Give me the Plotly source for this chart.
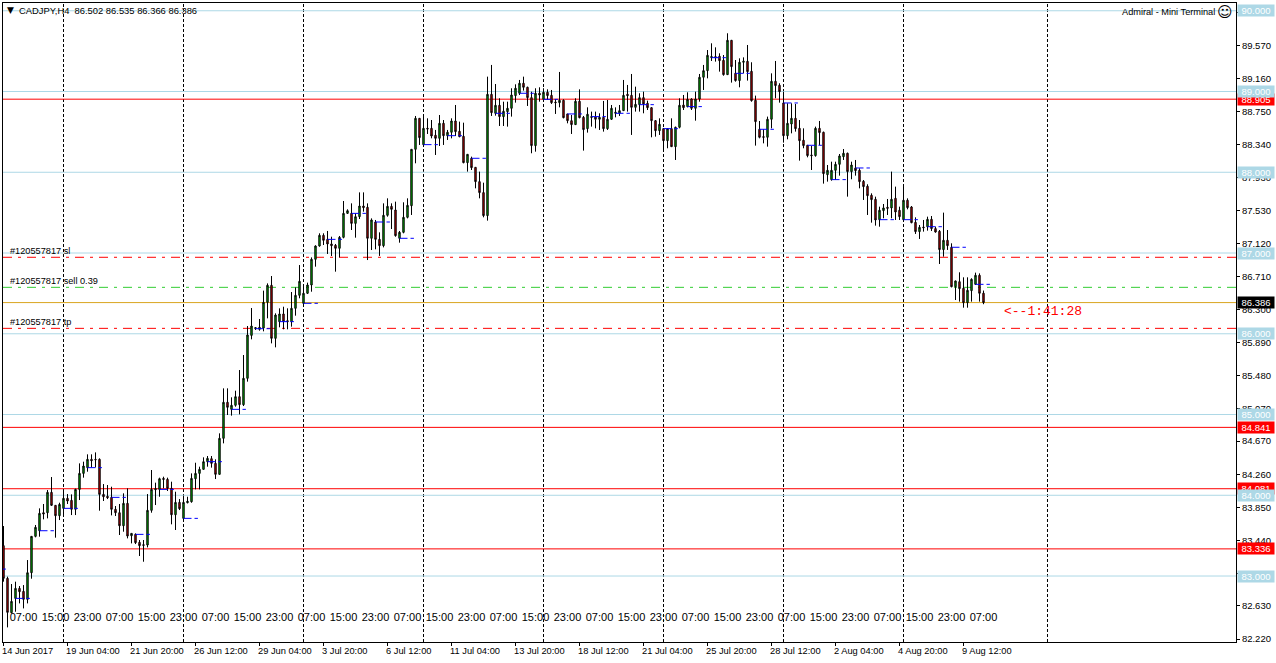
import plotly.graph_objects as go

opens = [
83.376,82.971,82.546,82.723,82.847,82.810,82.711,83.041,83.491,83.561,
83.784,83.784,84.036,83.875,83.747,83.838,83.962,83.937,83.826,84.073,
84.271,84.342,84.445,84.445,84.445,84.011,83.987,83.974,83.826,83.784,
83.623,83.900,83.499,83.516,83.417,83.388,83.384,83.813,84.069,84.073,
84.209,84.197,84.086,83.759,83.912,83.714,83.908,83.920,84.205,84.271,
84.321,84.416,84.453,84.395,84.259,84.705,85.151,85.064,85.114,85.221,
85.122,85.448,85.980,86.063,86.055,86.071,86.389,86.600,85.943,86.150,
86.245,86.162,86.150,86.315,86.476,86.377,86.501,86.604,86.922,87.087,
87.219,87.169,87.112,87.095,87.058,87.194,87.491,87.491,87.367,87.450,
87.582,87.566,87.182,87.384,87.169,87.091,87.467,87.578,87.533,87.182,
87.256,87.442,87.586,88.284,88.668,88.342,88.544,88.544,88.458,88.420,
88.606,88.453,88.495,88.635,88.507,88.445,88.119,88.173,88.061,87.884,
87.748,87.463,88.965,88.730,88.829,88.689,88.751,88.792,88.949,88.978,
89.102,89.052,88.924,88.330,88.978,88.903,88.990,88.953,88.870,88.862,
88.891,88.722,88.639,88.590,88.879,88.680,88.540,88.689,88.685,88.656,
88.680,88.540,88.656,88.730,88.730,88.763,88.965,88.953,88.804,88.837,
88.924,88.854,88.800,88.639,88.515,88.540,88.391,88.540,88.317,88.557,
88.833,88.813,88.907,88.792,88.907,89.176,89.258,89.419,89.432,89.436,
89.386,89.209,89.634,89.225,89.135,89.362,89.374,89.250,88.891,88.532,
88.441,88.433,88.656,89.126,89.077,88.858,88.453,88.598,88.668,88.544,
88.396,88.334,88.214,88.206,88.544,88.495,87.970,87.909,88.024,88.098,
88.193,88.235,88.008,88.053,88.024,87.888,87.826,87.715,87.665,87.413,
87.525,87.566,87.558,87.677,87.529,87.413,87.653,87.570,87.380,87.265,
87.322,87.326,87.417,87.302,87.269,87.042,87.157,87.071,86.583,86.645,
86.563,86.385,86.534,86.612,86.724,86.502,
]
highs = [
83.619,82.992,82.901,82.930,82.876,82.888,83.198,83.495,83.632,83.838,
83.892,84.065,84.226,83.875,83.908,84.073,84.015,84.011,84.081,84.395,
84.416,84.507,84.507,84.531,84.457,84.139,84.127,84.106,83.867,83.892,
84.024,84.086,83.528,83.528,83.446,83.446,84.015,84.313,84.156,84.218,
84.230,84.218,84.168,84.044,83.953,83.995,83.982,84.271,84.403,84.354,
84.470,84.486,84.486,84.445,84.767,85.324,85.324,85.213,85.295,85.551,
85.737,86.096,86.319,86.080,86.183,86.534,86.624,86.715,86.253,86.315,
86.335,86.315,86.517,86.575,86.851,86.616,86.633,86.946,87.095,87.244,
87.244,87.273,87.202,87.112,87.211,87.644,87.541,87.615,87.491,87.751,
87.751,87.615,87.429,87.409,87.256,87.615,87.677,87.615,87.636,87.273,
87.628,87.677,88.284,88.697,88.668,88.689,88.668,88.647,88.524,88.709,
88.647,88.524,88.668,88.833,88.627,88.614,88.222,88.193,88.061,88.008,
87.871,89.184,89.329,89.093,88.916,88.874,88.874,89.040,89.089,89.143,
89.184,89.060,88.998,89.040,89.052,89.040,89.027,89.019,88.907,89.242,
88.903,88.722,88.709,88.916,89.027,88.697,88.804,88.751,88.751,88.730,
88.883,88.895,88.833,88.804,88.833,89.143,89.081,89.217,89.060,88.978,
88.998,88.887,88.804,88.647,88.668,88.544,88.544,88.668,88.565,88.916,
88.957,88.990,88.916,88.998,89.217,89.329,89.514,89.597,89.547,89.473,
89.452,89.721,89.638,89.390,89.411,89.423,89.576,89.362,88.949,88.635,
88.532,88.689,89.225,89.378,89.102,88.998,88.854,88.854,88.846,88.647,
88.544,88.338,88.325,88.565,88.635,88.503,88.090,88.131,88.131,88.226,
88.288,88.243,88.131,88.152,88.049,87.904,87.851,87.739,87.698,87.574,
87.607,87.669,88.008,87.822,87.574,87.822,87.677,87.582,87.442,87.347,
87.409,87.450,87.458,87.326,87.285,87.500,87.285,87.120,86.658,86.761,
86.699,86.699,86.687,86.757,86.748,86.535,
]
lows = [
82.930,82.364,82.538,82.558,82.661,82.599,82.661,82.967,83.479,83.487,
83.702,83.714,83.867,83.475,83.693,83.759,83.892,83.755,83.755,83.941,
84.218,84.292,84.346,84.346,83.809,83.929,83.953,83.751,83.743,83.508,
83.549,83.466,83.404,83.396,83.248,83.177,83.355,83.784,83.879,83.982,
84.086,84.053,83.640,83.570,83.817,83.706,83.900,83.908,84.073,84.073,
84.321,84.354,84.342,84.201,84.259,84.643,84.994,84.986,85.097,85.002,
85.105,85.407,85.931,86.047,86.038,86.030,86.191,85.881,85.832,86.080,
86.055,86.055,86.088,86.224,86.439,86.356,86.492,86.521,86.831,87.079,
87.099,86.988,86.963,86.769,86.946,87.182,87.483,87.285,87.190,87.421,
87.512,86.913,87.037,87.046,86.964,87.070,87.450,87.297,87.202,87.128,
87.244,87.429,87.471,88.111,88.338,88.342,88.474,88.420,88.214,88.325,
88.338,88.400,88.420,88.449,88.433,88.111,88.008,88.028,87.801,87.677,
87.442,87.401,88.697,88.701,88.573,88.573,88.565,88.689,88.862,88.957,
89.011,88.821,88.235,88.255,88.874,88.895,88.895,88.846,88.722,88.804,
88.668,88.606,88.474,88.586,88.668,88.268,88.491,88.565,88.544,88.524,
88.503,88.524,88.647,88.680,88.697,88.759,88.751,88.462,88.751,88.751,
88.730,88.771,88.433,88.441,88.462,88.288,88.297,88.317,88.152,88.544,
88.771,88.804,88.771,88.639,88.874,89.019,89.163,89.378,89.370,89.246,
89.196,89.205,89.110,89.122,89.052,89.225,89.135,88.874,88.330,88.420,
88.358,88.317,88.544,88.916,88.862,88.367,88.408,88.482,88.503,88.144,
88.297,88.185,88.028,88.193,88.338,87.859,87.884,87.896,87.904,87.958,
88.152,87.698,87.913,87.958,87.801,87.657,87.471,87.376,87.339,87.326,
87.430,87.471,87.430,87.409,87.409,87.409,87.541,87.368,87.236,87.174,
87.265,87.277,87.273,87.252,86.864,86.955,87.038,86.575,86.418,86.398,
86.323,86.323,86.398,86.604,86.398,86.366,
]
closes = [
82.971,82.550,82.686,82.847,82.806,82.711,83.041,83.491,83.603,83.776,
83.768,84.036,83.875,83.747,83.887,83.962,83.929,83.826,84.073,84.271,
84.362,84.445,84.428,84.440,84.011,83.982,83.970,83.826,83.784,83.623,
83.900,83.495,83.528,83.413,83.376,83.380,83.813,84.073,84.081,84.205,
84.197,84.086,83.759,83.912,83.834,83.912,83.925,84.209,84.271,84.321,
84.416,84.457,84.395,84.259,84.705,85.151,85.089,85.114,85.221,85.122,
85.448,85.985,86.096,86.075,86.080,86.389,86.600,85.943,86.232,86.245,
86.150,86.150,86.315,86.476,86.649,86.501,86.604,86.922,87.087,87.219,
87.157,87.112,87.091,87.058,87.194,87.491,87.524,87.367,87.450,87.582,
87.562,87.182,87.409,87.169,87.091,87.467,87.578,87.541,87.215,87.256,
87.442,87.590,88.284,88.668,88.429,88.544,88.536,88.449,88.420,88.606,
88.453,88.495,88.635,88.503,88.441,88.119,88.222,88.057,87.884,87.748,
87.463,88.965,88.738,88.829,88.689,88.755,88.792,88.957,89.040,89.102,
89.052,88.924,88.330,88.978,88.957,88.990,88.949,88.862,88.862,88.891,
88.676,88.639,88.590,88.879,88.676,88.528,88.718,88.680,88.656,88.680,
88.540,88.656,88.792,88.742,88.763,88.953,88.949,88.804,88.841,88.924,
88.846,88.800,88.639,88.515,88.594,88.391,88.540,88.317,88.557,88.829,
88.800,88.903,88.792,88.907,89.176,89.258,89.448,89.432,89.419,89.382,
89.209,89.634,89.308,89.135,89.362,89.374,89.246,88.887,88.627,88.433,
88.433,88.656,89.126,89.073,88.998,88.453,88.606,88.668,88.540,88.391,
88.330,88.206,88.206,88.544,88.491,87.983,88.024,88.024,88.098,88.202,
88.235,88.008,88.090,88.020,87.884,87.822,87.710,87.661,87.409,87.529,
87.558,87.554,87.665,87.508,87.450,87.653,87.562,87.376,87.265,87.318,
87.314,87.417,87.302,87.260,87.042,87.157,87.091,86.583,86.654,86.559,
86.385,86.538,86.674,86.724,86.501,86.386,
]

bar_index = list(range(len(opens)))

# blue daily-open marks: every sixth H4 bar, plus the day before the window
day_first_bar = list(range(3, len(opens), 6))
prior_day_bar = -3
prior_day_open = 83.086
day_mark_bars = 3.6

date_ticks = list(range(0, 241, 16))
date_labels = ["14 Jun 2017", "19 Jun 04:00", "21 Jun 20:00", "26 Jun 12:00", "29 Jun 04:00",
               "3 Jul 20:00", "6 Jul 12:00", "11 Jul 04:00", "13 Jul 20:00", "18 Jul 12:00",
               "21 Jul 04:00", "25 Jul 20:00", "28 Jul 12:00", "2 Aug 04:00", "4 Aug 20:00",
               "9 Aug 12:00"]
hour_bars = list(range(5, 246, 8))
hour_names = ["07:00", "15:00", "23:00"]
hour_price = 82.48
separator_bars = [15, 45, 75, 105, 135, 165, 195, 225, 261]

price_ticks = [89.98, 89.57, 89.16, 88.75, 88.34, 87.93, 87.53, 87.12, 86.71, 86.30, 85.89,
               85.48, 85.07, 84.67, 84.26, 83.85, 83.44, 83.03, 82.63, 82.22]
round_levels = [90, 89, 88, 87, 86, 85, 84, 83]
red_levels = [88.905, 84.841, 84.081, 83.336]
bid_level = 86.386
sl_level = 86.947
entry_level = 86.575
tp_level = 86.067
title_text = "CADJPY,H4  86.502 86.535 86.366 86.386"
FONT = "Liberation Sans"

W, H = 1276, 663
L, R, T, B = 3, 40, 3, 21
def pxx(x): return (x - L) / (W - L - R)
def pxy(y): return 1 - (y - T) / (H - T - B)

fig = go.Figure()

mark_x, mark_y = [prior_day_bar, prior_day_bar + day_mark_bars, None], [prior_day_open, prior_day_open, None]
for k in day_first_bar:
    mark_x += [k, k + day_mark_bars, None]
    mark_y += [opens[k], opens[k], None]
fig.add_trace(go.Scatter(x=mark_x, y=mark_y, mode="lines", hoverinfo="skip",
                         line=dict(color="#0000ff", width=1, dash="8px,3px,4px,100px")))

fig.add_trace(go.Candlestick(
    x=bar_index, open=opens, high=highs, low=lows, close=closes, whiskerwidth=0,
    increasing=dict(line=dict(color="black", width=1), fillcolor="#00d000"),
    decreasing=dict(line=dict(color="black", width=1), fillcolor="#e00000"),
))

fig.add_trace(go.Scatter(
    x=hour_bars, y=[hour_price] * len(hour_bars), mode="text",
    text=[hour_names[i % 3] for i in range(len(hour_bars))], hoverinfo="skip",
    textposition="middle center", textfont=dict(family=FONT, size=11, color="black"),
))

shapes = []
def hline(level, color, dash="solid"):
    shapes.append(dict(type="line", xref="paper", x0=0, x1=1, yref="y", y0=level, y1=level,
                       layer="below", line=dict(color=color, width=1, dash=dash)))
for k in separator_bars:
    shapes.append(dict(type="line", xref="x", x0=k, x1=k, yref="paper", y0=0, y1=1, layer="below",
                       line=dict(color="black", width=1, dash="3px,2px")))
for v in round_levels:
    hline(v, "#add8e6")
for v in red_levels:
    hline(v, "#ff0000")
hline(bid_level, "#daa520")
DD = "9px,6px,3px,6px"
hline(sl_level, "#ff0000", DD)
hline(entry_level, "#32cd32", DD)
hline(tp_level, "#ff0000", DD)

ann = []
def price_label(level, bg, txt="white"):
    ann.append(dict(xref="paper", x=1, xanchor="left", xshift=1, yref="y", y=level, yanchor="middle",
                    text=f"{level:.3f}", showarrow=False, width=36, height=11, borderpad=0,
                    bgcolor=bg, align="center", font=dict(family=FONT, size=9.5, color=txt)))
for v in red_levels:
    price_label(v, "#ff0000")
for v in round_levels:
    price_label(float(v), "#add8e6")
price_label(bid_level, "#000000")

def pix_text(x, y, text, size=10, color="black", family=FONT, anchor="left"):
    ann.append(dict(xref="paper", yref="paper", x=pxx(x), y=pxy(y), xanchor=anchor, yanchor="middle",
                    text=text, showarrow=False, borderpad=0, font=dict(family=family, size=size, color=color)))

pix_text(18, 10, title_text, size=9.4)
pix_text(10, 10, "▼", size=9, anchor="center", family="DejaVu Sans")
pix_text(1121, 12, "Admiral - Mini Terminal", size=9.2)
pix_text(1225, 12, "☺", size=15, anchor="center", family="DejaVu Sans")
pix_text(1003, 311, "&lt;--1:41:28", size=13, color="#ff0000", family="Liberation Mono")

for level, text in [(sl_level, "#120557817 sl"), (entry_level, "#120557817 sell 0.39"), (tp_level, "#120557817 tp")]:
    ann.append(dict(xref="x", x=1.35, xanchor="left", yref="y", y=level, yanchor="middle", yshift=6,
                    text=text, showarrow=False, borderpad=0, font=dict(family=FONT, size=9.2, color="black")))

for k, text in zip(date_ticks, date_labels):
    ann.append(dict(xref="x", x=k, xanchor="left", xshift=-3, yref="paper", y=0, yanchor="top", yshift=-3,
                    text=text, showarrow=False, borderpad=0, font=dict(family=FONT, size=9.3, color="black")))

fig.update_layout(
    width=W, height=H, margin=dict(l=L, r=R, t=T, b=B, pad=0, autoexpand=False),
    paper_bgcolor="white", plot_bgcolor="white", showlegend=False, boxgap=0.5,
    shapes=shapes, annotations=ann,
    xaxis=dict(range=[-0.125, 308.125], rangeslider=dict(visible=False), showgrid=False, zeroline=False,
               showline=True, mirror=True, linecolor="black", linewidth=1,
               tickmode="array", tickvals=date_ticks, ticktext=[""] * len(date_ticks),
               ticks="outside", ticklen=3, tickcolor="black", tickwidth=1),
    yaxis=dict(range=[82.183, 90.096], side="right", showgrid=False, zeroline=False,
               showline=True, mirror=True, linecolor="black", linewidth=1,
               tickmode="array", tickvals=price_ticks, ticktext=[f"{v:.3f}" for v in price_ticks],
               ticks="outside", ticklen=3, tickcolor="black", tickwidth=1,
               tickfont=dict(family=FONT, size=9.5, color="black")),
)

fig.write_html("out.html", config={"displayModeBar": False},
               post_script="document.body.style.margin='0';document.documentElement.style.overflow='hidden';")
